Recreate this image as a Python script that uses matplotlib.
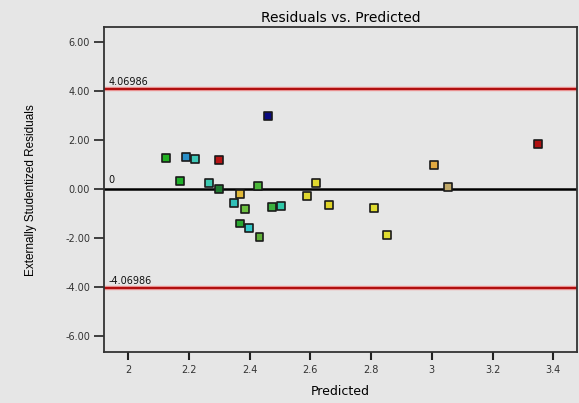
import matplotlib
matplotlib.use('Agg')
import matplotlib.pyplot as plt

# predicted values and externally studentized residuals
predicted = [2.125, 2.19, 2.22, 2.298, 2.459, 2.17, 2.266, 2.30, 2.368, 2.428,
             2.348, 2.385, 2.472, 2.502, 2.369, 2.397, 2.432, 2.589,
             3.349, 3.008, 3.054, 2.617, 2.662, 2.809, 2.851]
residuals = [1.28, 1.30, 1.21, 1.17, 2.99, 0.32, 0.25, 0.0, -0.20, 0.13,
             -0.58, -0.83, -0.75, -0.70, -1.41, -1.60, -1.95, -0.30,
             1.83, 0.99, 0.09, 0.25, -0.65, -0.78, -1.87]
point_colors = ['#22b022', '#2a8fc8', '#3fc8b8', '#b81414', '#0a0a80', '#1fb02a',
                '#3cc8b0', '#1f7a30', '#e0b838', '#4cb83a',
                '#30c0b8', '#6cc040', '#3cb040', '#30c8a8', '#2aa830', '#30c8c8',
                '#60b038', '#e0d830',
                '#b01010', '#e0a840', '#c0a868', '#e0d830', '#e0d428', '#e0dc30', '#e0dc30']

limit = 4.06986
yticks = [6, 4, 2, 0, -2, -4, -6]
xticks = [2, 2.2, 2.4, 2.6, 2.8, 3, 3.2, 3.4]

bg = '#e6e6e6'
fig = plt.figure(figsize=(5.79, 4.03), dpi=100, facecolor=bg)
ax = fig.add_axes([0.1796, 0.1258, 0.8164, 0.807], facecolor=bg)

# limit lines with a faint halo
for lv in (limit, -limit):
    ax.axhline(lv, color='#f0a0a0', lw=3.2, zorder=1)
    ax.axhline(lv, color='#b01010', lw=1.6, zorder=2)
ax.axhline(0, color='black', lw=1.8, zorder=2)

ax.scatter(predicted, residuals, marker='s', s=32, c=point_colors,
           edgecolors='#1a1a1a', linewidths=1.2, zorder=3)

ax.text(1.935, limit + 0.12, '4.06986', fontsize=7, color='#111111', va='bottom')
ax.text(1.935, -limit + 0.12, '-4.06986', fontsize=7, color='#111111', va='bottom')
ax.text(1.935, 0.15, '0', fontsize=7, color='#111111', va='bottom')

ax.set_xlim(1.92, 3.477)
ax.set_ylim(-6.68, 6.62)
ax.set_xticks(xticks)
ax.set_xticklabels([f'{v:g}' for v in xticks], fontsize=7, color='#333333')
ax.set_yticks(yticks)
ax.set_yticklabels([f'{v:.2f}' for v in yticks], fontsize=7, color='#333333')
ax.tick_params(axis='y', direction='out', length=7, width=1.2, color='#222222', pad=3)
ax.tick_params(axis='x', direction='out', length=6, width=1.5, color='#222222', pad=3)

for sp in ax.spines.values():
    sp.set_color('#333333')
    sp.set_linewidth(1.3)

ax.set_title('Residuals vs. Predicted', fontsize=10, pad=4)
ax.set_xlabel('Predicted', fontsize=9, labelpad=7)
ax.set_ylabel('Externally Studentized Residuals', fontsize=8.5, labelpad=20,
              family=['Liberation Sans', 'DejaVu Sans'])

fig.savefig('out.png', dpi=100, facecolor=bg)
